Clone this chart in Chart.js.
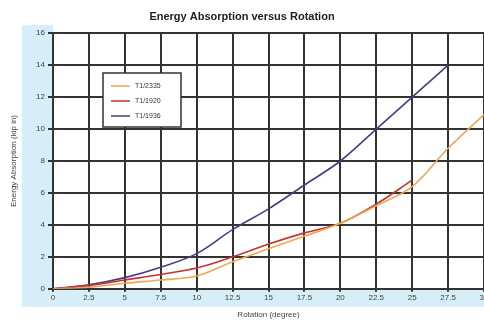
<!DOCTYPE html>
<html>
<head>
<meta charset="utf-8">
<script src="https://cdn.jsdelivr.net/npm/chart.js@4/dist/chart.umd.min.js"></script>
<style>
  html, body { margin: 0; padding: 0; background: #fff; }
  #wrap { width: 484px; height: 327px; }
</style>
</head>
<body>
<div id="wrap"><canvas id="energyChart" width="484" height="327"></canvas></div>
<script>
// rotation in degrees, energy in kip-in
const rotation = [0, 2.5, 5, 7.5, 10, 12.5, 15, 17.5, 20, 22.5, 25, 27.5, 30];
const seriesNames = ['T1/2335', 'T1/1920', 'T1/1936'];
const energyA = [0, 0.1, 0.35, 0.55, 0.8, 1.7, 2.5, 3.3, 4.1, 5.2, 6.4, 8.8, 10.9];
const energyB = [0, 0.2, 0.55, 0.9, 1.3, 2.0, 2.8, 3.5, 4.1, 5.3, 6.8];
const energyC = [0, 0.25, 0.7, 1.35, 2.2, 3.7, 5.0, 6.5, 8.0, 10.0, 12.0, 14.0];
const lineColors = ['#e9a955', '#c8322e', '#4b3a86'];

const toPoints = (vals) => vals.map((v, i) => ({ x: rotation[i], y: v }));

// light blue strips behind the axis labels
const axisBands = {
  id: 'axisBands',
  beforeDraw(chart) {
    const { ctx, chartArea } = chart;
    ctx.save();
    ctx.fillStyle = '#d6eef8';
    ctx.fillRect(22, chartArea.top - 8, chartArea.left - 22, chartArea.bottom - chartArea.top + 26);
    ctx.fillRect(30, chartArea.bottom, chartArea.right - 30, 18);
    ctx.restore();
  }
};

// boxed legend sitting inside the plot
const boxLegend = {
  id: 'boxLegend',
  afterDraw(chart) {
    const { ctx } = chart;
    const x = 103, y = 73, w = 78, h = 54;
    ctx.save();
    ctx.fillStyle = '#fff';
    ctx.fillRect(x, y, w, h);
    ctx.strokeStyle = '#333';
    ctx.lineWidth = 1.5;
    ctx.strokeRect(x, y, w, h);
    ctx.font = '7px "Liberation Sans", Arial, sans-serif';
    ctx.textBaseline = 'middle';
    chart.data.datasets.forEach((ds, i) => {
      const ry = y + 13 + i * 15;
      ctx.strokeStyle = ds.borderColor;
      ctx.lineWidth = 1.5;
      ctx.beginPath();
      ctx.moveTo(x + 8, ry);
      ctx.lineTo(x + 27, ry);
      ctx.stroke();
      ctx.fillStyle = '#333';
      ctx.fillText(ds.label, x + 32, ry);
    });
    ctx.restore();
  }
};

new Chart(document.getElementById('energyChart'), {
  type: 'line',
  data: {
    datasets: [
      { label: seriesNames[0], data: toPoints(energyA), borderColor: lineColors[0] },
      { label: seriesNames[1], data: toPoints(energyB), borderColor: lineColors[1] },
      { label: seriesNames[2], data: toPoints(energyC), borderColor: lineColors[2] }
    ]
  },
  options: {
    responsive: false,
    animation: false,
    layout: { padding: { top: 4, right: 0, bottom: 7, left: 0 } },
    elements: {
      line: { borderWidth: 1.6, tension: 0.35, fill: false },
      point: { radius: 0 }
    },
    plugins: {
      legend: { display: false },
      tooltip: { enabled: false },
      title: {
        display: true,
        text: 'Energy Absorption versus Rotation',
        color: '#222',
        font: { family: '"Liberation Sans", Arial, sans-serif', size: 11, weight: 'bold' },
        padding: { top: 6, bottom: 10 }
      }
    },
    scales: {
      x: {
        type: 'linear',
        min: 0,
        max: 30,
        afterFit: (s) => { s.paddingRight = 0; s.paddingLeft = 0; },
        ticks: {
          stepSize: 2.5,
          color: '#444',
          padding: 1,
          font: { family: '"Liberation Sans", Arial, sans-serif', size: 8 }
        },
        grid: { color: '#333', lineWidth: 2, tickLength: 3 },
        border: { color: '#333', width: 2 },
        title: {
          display: true,
          text: 'Rotation (degree)',
          color: '#444',
          padding: { top: 7, bottom: 0 },
          font: { family: '"Liberation Sans", Arial, sans-serif', size: 8 }
        }
      },
      y: {
        min: 0,
        max: 16,
        afterFit: (s) => { s.width = 53; },
        ticks: {
          stepSize: 2,
          color: '#444',
          padding: 3,
          font: { family: '"Liberation Sans", Arial, sans-serif', size: 8 }
        },
        grid: { color: '#333', lineWidth: 2, tickLength: 5 },
        border: { color: '#333', width: 2 },
        title: {
          display: true,
          text: 'Energy Absorption (kip in)',
          color: '#444',
          padding: { top: 9, bottom: 2 },
          font: { family: '"Liberation Sans", Arial, sans-serif', size: 8 }
        }
      }
    }
  },
  plugins: [axisBands, boxLegend]
});
</script>
</body>
</html>
